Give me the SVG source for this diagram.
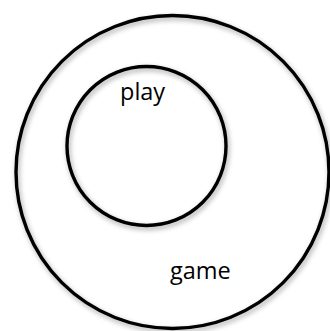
<svg xmlns="http://www.w3.org/2000/svg" width="330" height="331" viewBox="0 0 330 331">
<defs>
<filter id="sh" x="-20%" y="-20%" width="140%" height="140%">
<feDropShadow dx="1.5" dy="2.5" stdDeviation="2.5" flood-color="#000" flood-opacity="0.35"/>
</filter>
</defs>
<style>
.c{fill:none;stroke:#000;stroke-width:3.4;filter:url(#sh)}
.t{font-family:"Open Sans","Liberation Sans",sans-serif;font-size:23.5px;fill:#000}
</style>
<rect width="330" height="331" fill="#fff"/>
<g id="game">
<circle class="c" cx="172.5" cy="172" r="156.5"/>
<text class="t" x="170" y="279">game</text>
</g>
<g id="play">
<circle class="c" cx="146.5" cy="146" r="79.5"/>
<text class="t" x="120" y="100">play</text>
</g>
<g id="connectors"/>
</svg>
